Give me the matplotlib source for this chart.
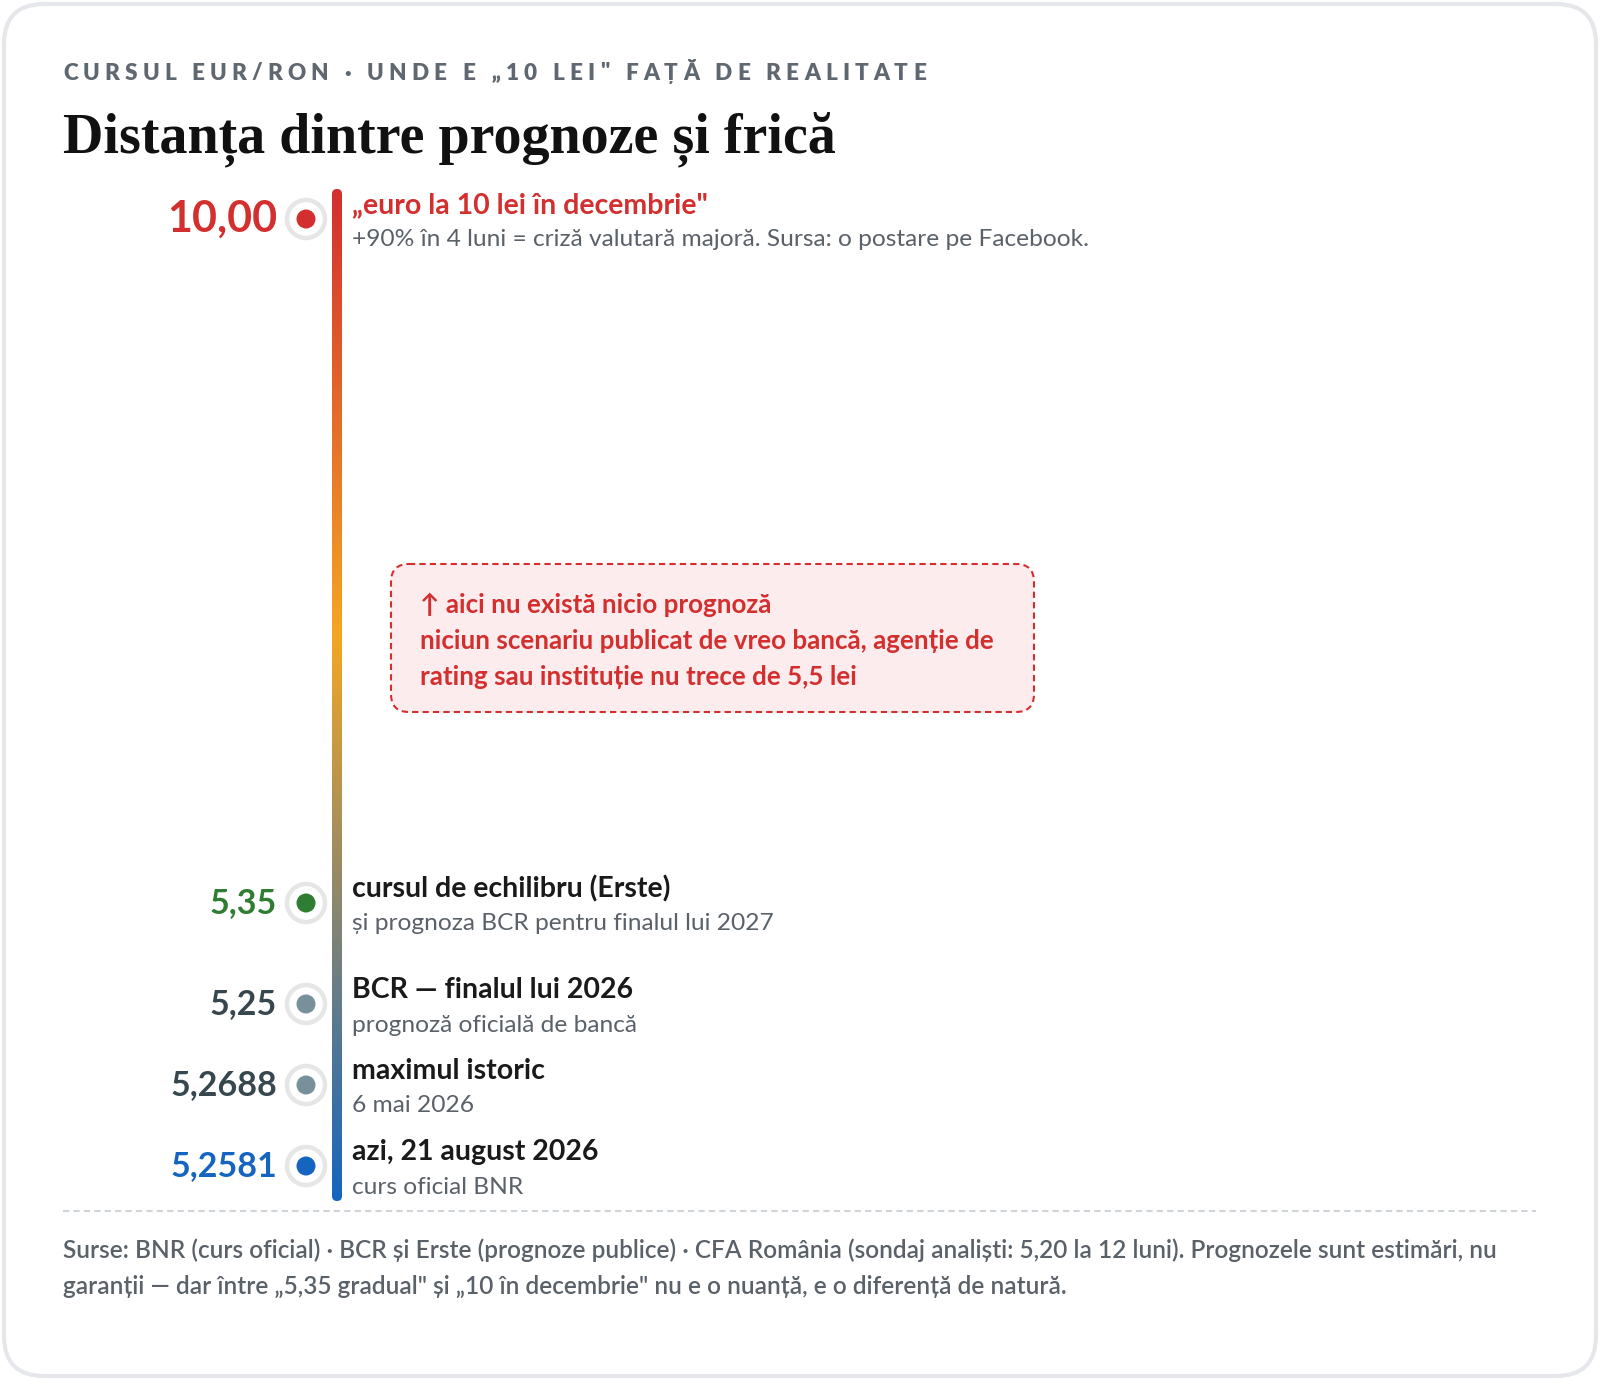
import matplotlib
matplotlib.use("Agg")
import matplotlib.pyplot as plt
from matplotlib.patches import FancyBboxPatch, Circle
from matplotlib.colors import LinearSegmentedColormap
import numpy as np

plt.rcParams['font.family'] = ['Lato', 'DejaVu Sans']

# --- data ---
rates = [10.00, 5.35, 5.25, 5.2688, 5.2581]
rate_decimals = [2, 2, 2, 4, 4]
titles = ['„euro la 10 lei în decembrie"', 'cursul de echilibru (Erste)',
          'BCR — finalul lui 2026', 'maximul istoric', 'azi, 21 august 2026']
subtitles = ['+90% în 4 luni = criză valutară majoră. Sursa: o postare pe Facebook.',
             'și prognoza BCR pentru finalul lui 2027', 'prognoză oficială de bancă',
             '6 mai 2026', 'curs oficial BNR']
value_colors = ['#d32f2f', '#2e7d32', '#37474f', '#37474f', '#1565c0']
dot_colors = ['#d32f2f', '#2e7d32', '#78909c', '#78909c', '#1565c0']
title_colors = ['#d32f2f', '#1a1a1a', '#1a1a1a', '#1a1a1a', '#1a1a1a']

kicker = 'CURSUL EUR/RON · UNDE E „10 LEI" FAȚĂ DE REALITATE'
headline = 'Distanța dintre prognoze și frică'
note_lines = ['↑ aici nu există nicio prognoză',
              'niciun scenariu publicat de vreo bancă, agenție de',
              'rating sau instituție nu trece de 5,5 lei']
footer_lines = ['Surse: BNR (curs oficial) · BCR și Erste (prognoze publice) · CFA România '
                '(sondaj analiști: 5,20 la 12 luni). Prognozele sunt estimări, nu',
                'garanții — dar între „5,35 gradual" și „10 în decembrie" nu e o nuanță, '
                'e o diferență de natură.']

W, H = 1600, 1380
fig = plt.figure(figsize=(W / 100, H / 100), dpi=100)
ax = fig.add_axes([0, 0, 1, 1])
ax.set_xlim(0, W)
ax.set_ylim(H, 0)
ax.axis('off')

def px(v):  # pixel size -> points
    return v * 0.72

# card
card = FancyBboxPatch((4, 4), W - 8, H - 8, boxstyle="round,pad=0,rounding_size=40",
                      facecolor='white', edgecolor='#e5e7eb', lw=3)
ax.add_patch(card)

# kicker with letter spacing
renderer = fig.canvas.get_renderer()
x = 63
for ch in kicker:
    t = ax.text(x, 73, ch, fontsize=px(22.5), fontweight='heavy', color='#5f6770',
                va='center', ha='left')
    bb = t.get_window_extent(renderer)
    w = bb.width if ch != ' ' else px(22.5) * 0.35
    x += w + 5.1

ax.text(63, 139, headline, fontsize=px(56), fontweight='bold', color='#111111',
        family=['Liberation Serif', 'DejaVu Serif'], va='center', ha='left')

# layout of rows (top item far away, the rest stacked at the bottom)
n = len(rates)
y_top, y_bottom, step = 219, 1166, 81
row_y = [y_top] + [y_bottom - step * (n - 1 - i) - (20 if i == 1 else 0) for i in range(1, n)]

# gradient line
line_x, line_w = 337, 10
line_y0, line_y1 = 189, 1201
cmap = LinearSegmentedColormap.from_list('fear', [(0, '#d32f2f'), (0.44, '#f5a623'), (1, '#1565c0')])
grad = np.linspace(0, 1, 512).reshape(-1, 1)
im = ax.imshow(grad, cmap=cmap, aspect='auto',
               extent=(line_x - line_w / 2, line_x + line_w / 2, line_y1, line_y0), zorder=3)
clip = FancyBboxPatch((line_x - line_w / 2, line_y0), line_w, line_y1 - line_y0,
                      boxstyle="round,pad=0,rounding_size=5", transform=ax.transData,
                      facecolor='none', edgecolor='none')
ax.add_patch(clip)
im.set_clip_path(clip)
ax.set_xlim(0, W)
ax.set_ylim(H, 0)

# markers and labels
for i in range(n):
    y = row_y[i]
    ax.add_patch(Circle((306, y), 19, facecolor='white', edgecolor='#e6e6e6', lw=3.2, zorder=4))
    ax.add_patch(Circle((306, y), 9.5, facecolor=dot_colors[i], edgecolor='none', zorder=5))
    label = f"{rates[i]:.{rate_decimals[i]}f}".replace('.', ',')
    ax.text(277, y, label, fontsize=px(43 if i == 0 else 34), fontweight='bold',
            color=value_colors[i], ha='right', va='center')
    ax.text(352, y - 14, titles[i], fontsize=px(28.5), fontweight='bold',
            color=title_colors[i], ha='left', va='center')
    ax.text(352, y + 21, subtitles[i], fontsize=px(24.5), color='#5a6169',
            ha='left', va='center')

# note box
note = FancyBboxPatch((391, 564), 643, 148, boxstyle="round,pad=0,rounding_size=18",
                      facecolor='#fdeced', edgecolor='#d32f2f', lw=1.5, linestyle=(0, (3, 2)))
ax.add_patch(note)
for k, line in enumerate(note_lines):
    ax.text(420, 605 + 36 * k, line, fontsize=px(26), fontweight='bold', color='#d32f2f',
            ha='left', va='center')

# footer
ax.plot([63, 1536], [1211, 1211], color='#d0d4d9', lw=1.5, linestyle=(0, (3, 2)))
for k, line in enumerate(footer_lines):
    ax.text(63, 1250 + 36 * k, line, fontsize=px(24.4), fontweight='semibold',
            color='#5a6169', ha='left', va='center')

fig.savefig('out.png', dpi=100, facecolor='white')
